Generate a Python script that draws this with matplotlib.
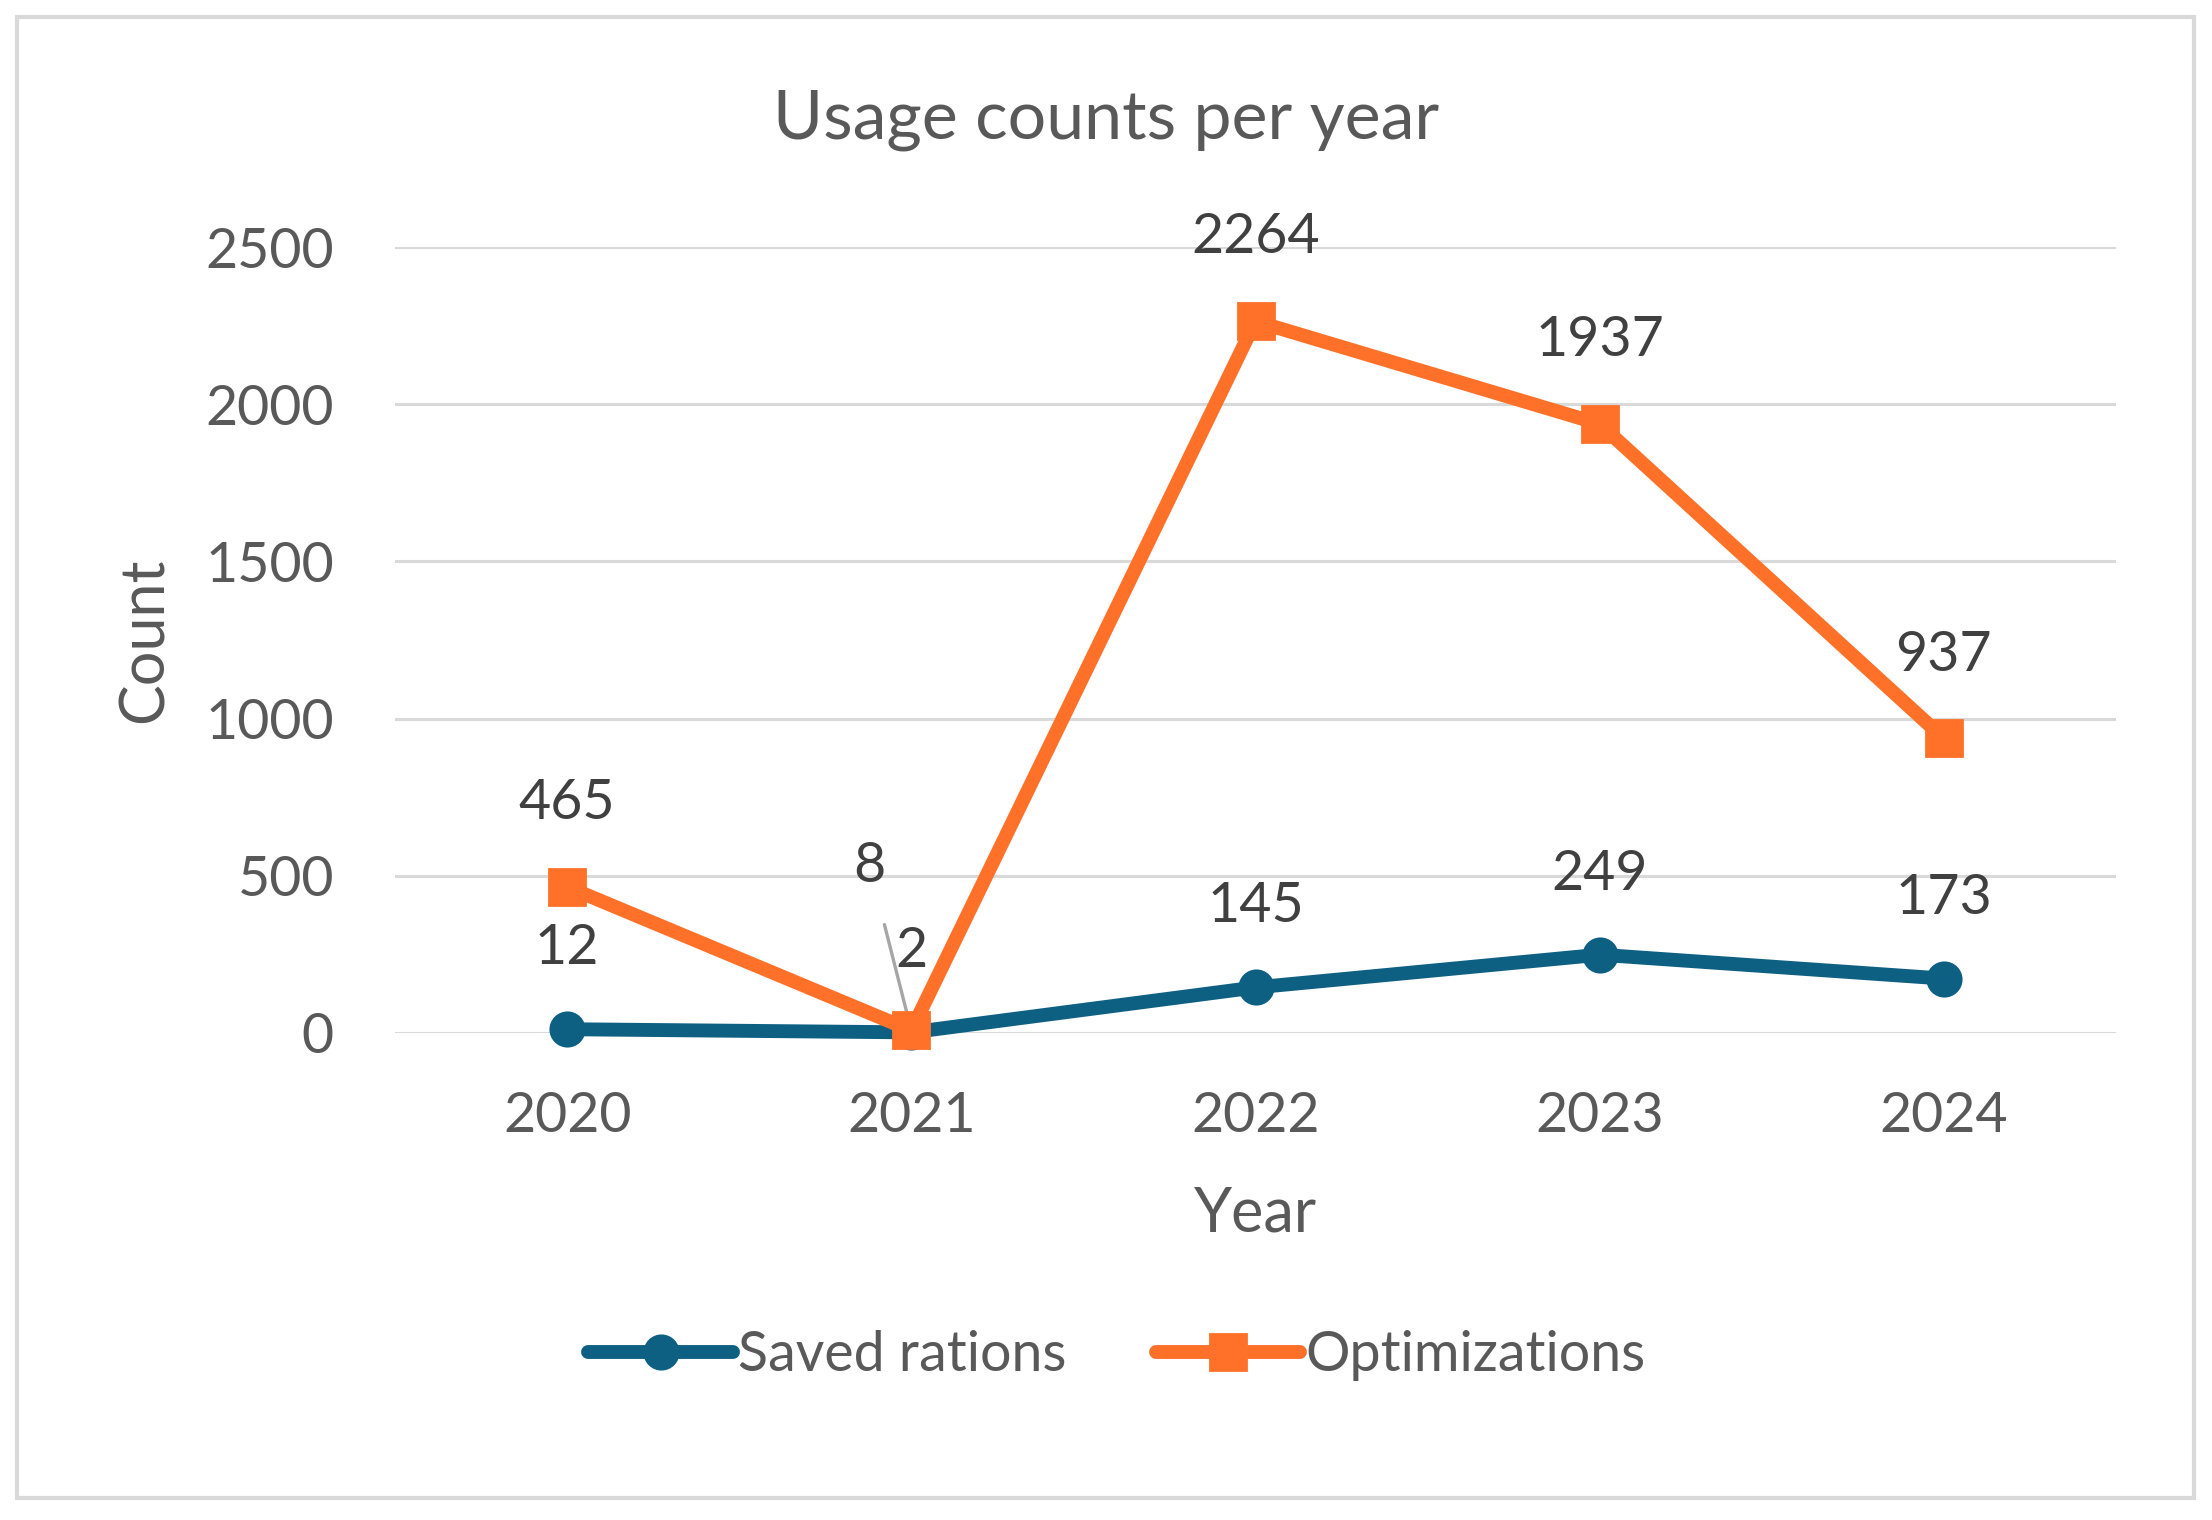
import matplotlib.pyplot as plt
from matplotlib.patches import Rectangle

years = ['2020', '2021', '2022', '2023', '2024']
saved_rations = [12, 2, 145, 249, 173]
optimizations = [465, 8, 2264, 1937, 937]
y_ticks = [0, 500, 1000, 1500, 2000, 2500]

BLUE = '#0E6083'
ORANGE = '#FF7029'
GREY_TEXT = '#595959'
GRID = '#D9D9D9'

plt.rcParams['font.family'] = ['Lato', 'DejaVu Sans']


def main():
    fig = plt.figure(figsize=(11.06, 7.6), dpi=200)
    ax = fig.add_axes([0.1786, 0.3204, 0.778, 0.5171])

    x = list(range(len(years)))
    ax.plot(x, saved_rations, color=BLUE, lw=5, marker='o', ms=12,
            solid_capstyle='round', label='Saved rations', clip_on=False, zorder=3)
    ax.plot(x, optimizations, color=ORANGE, lw=5, marker='s', ms=13,
            solid_capstyle='round', label='Optimizations', clip_on=False, zorder=4)

    # data labels above points
    for i, v in enumerate(optimizations):
        if years[i] == '2021':
            ax.annotate(str(v), (i, v), xytext=(-15, 59), textcoords='offset points',
                        ha='center', va='center', fontsize=20, color='#404040',
                        arrowprops=dict(arrowstyle='-', color='#A6A6A6', lw=1.2,
                                        shrinkA=10, shrinkB=0))
        else:
            ax.annotate(str(v), (i, v), xytext=(0, 30), textcoords='offset points',
                        ha='center', va='center', fontsize=20, color='#404040')
    for i, v in enumerate(saved_rations):
        ax.annotate(str(v), (i, v), xytext=(0, 29), textcoords='offset points',
                    ha='center', va='center', fontsize=20, color='#404040')

    ax.set_xlim(-0.5, len(years) - 0.5)
    ax.set_ylim(0, 2500)
    ax.set_xticks(x)
    ax.set_xticklabels(years)
    ax.set_yticks(y_ticks)
    ax.grid(axis='y', color=GRID, lw=1.1)
    ax.set_axisbelow(True)
    for s in ax.spines.values():
        s.set_visible(False)
    ax.tick_params(axis='both', length=0, labelsize=20, labelcolor=GREY_TEXT)
    ax.tick_params(axis='x', pad=21)
    ax.tick_params(axis='y', pad=22)

    ax.set_xlabel('Year', fontsize=22, color=GREY_TEXT)
    ax.xaxis.label.set_va('center')
    ax.xaxis.set_label_coords(0.5, -0.23)
    ax.set_ylabel('Count', fontsize=22, color=GREY_TEXT)
    ax.yaxis.label.set_va('center')
    ax.yaxis.set_label_coords(-0.145, 0.5)

    fig.text(0.5, 0.921, 'Usage counts per year', ha='center', va='center',
             fontsize=24.5, color=GREY_TEXT)

    fig.legend(loc='center', bbox_to_anchor=(0.505, 0.108), ncol=2, frameon=False,
               fontsize=20, labelcolor=GREY_TEXT, handlelength=2.6,
               handletextpad=0.1, columnspacing=1.6)

    fig.patches.append(Rectangle((0.0077, 0.0145), 0.984, 0.974, transform=fig.transFigure,
                                 fill=False, edgecolor=GRID, lw=1.5))

    fig.savefig('out.png', dpi=200, facecolor='white')


if __name__ == "__main__":
    main()
